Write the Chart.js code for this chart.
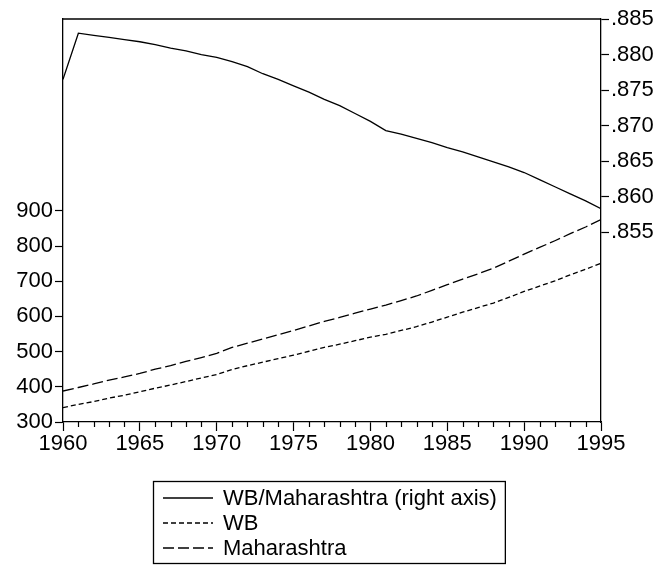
<!DOCTYPE html>
<html>
<head>
<meta charset="utf-8">
<script src="https://cdn.jsdelivr.net/npm/chart.js@4/dist/chart.umd.min.js"></script>
<style>
  html, body { margin: 0; padding: 0; background: #fff; }
</style>
</head>
<body>
<canvas id="grafico" width="663" height="572"></canvas>
<script>
// Séries anuais 1960-1995
const anos = [1960, 1961, 1962, 1963, 1964, 1965, 1966, 1967, 1968, 1969,
              1970, 1971, 1972, 1973, 1974, 1975, 1976, 1977, 1978, 1979,
              1980, 1981, 1982, 1983, 1984, 1985, 1986, 1987, 1988, 1989,
              1990, 1991, 1992, 1993, 1994, 1995];

const wb = [341, 350, 358, 368, 376, 386, 396, 405, 415, 425,
            435, 449, 460, 470, 480, 490, 501, 512, 521, 531,
            541, 549, 560, 571, 584, 598, 612, 625, 638, 654,
            671, 686, 701, 718, 734, 751];

const maharashtra = [388, 398, 408, 419, 428, 438, 450, 460, 472, 483,
                     495, 512, 524, 536, 548, 560, 573, 586, 597, 609,
                     621, 632, 645, 658, 674, 690, 706, 721, 737, 757,
                     777, 796, 815, 835, 854, 875];

const razao = [0.8765, 0.8830, 0.8827, 0.8824, 0.8821, 0.8818, 0.8814, 0.8809, 0.8805, 0.8800,
               0.8796, 0.8790, 0.8783, 0.8773, 0.8765, 0.8756, 0.8747, 0.8737, 0.8728, 0.8717,
               0.8706, 0.8693, 0.8688, 0.8682, 0.8676, 0.8669, 0.8663, 0.8656, 0.8649, 0.8642,
               0.8634, 0.8624, 0.8614, 0.8604, 0.8594, 0.8583];

const ticksEsquerda = [300, 400, 500, 600, 700, 800, 900];
const ticksDireita = [0.855, 0.860, 0.865, 0.870, 0.875, 0.880, 0.885];

const fonte = { family: "'Liberation Sans', Arial, sans-serif", size: 22 };
const preto = '#000';

function pontos(valores) {
    return anos.map((ano, i) => ({ x: ano, y: valores[i] }));
}

// Moldura de cima, marcas menores do eixo x e legenda com borda
const extras = {
    id: 'extras',
    afterDraw(chart) {
        const c = chart.ctx;
        const area = chart.chartArea;
        const x = chart.scales.x;

        c.save();
        c.strokeStyle = preto;
        c.lineWidth = 1.3;
        c.beginPath();
        c.moveTo(area.left, area.top);
        c.lineTo(area.right, area.top);
        c.stroke();

        c.lineWidth = 1.2;
        anos.forEach(ano => {
            if (ano % 5 === 0) return;
            const px = Math.round(x.getPixelForValue(ano)) + 0.5;
            c.beginPath();
            c.moveTo(px, area.bottom);
            c.lineTo(px, area.bottom + 5);
            c.stroke();
        });

        // legenda
        c.font = fonte.size + "px " + fonte.family;
        c.textBaseline = 'middle';
        const itens = chart.data.datasets;
        let largura = 0;
        itens.forEach(d => { largura = Math.max(largura, c.measureText(d.label).width); });
        const esq = 153, topo = 481, linha = 25;
        const larguraCaixa = 70 + largura + 8;
        const alturaCaixa = itens.length * linha + 7;

        c.lineWidth = 1.3;
        c.setLineDash([]);
        c.strokeRect(esq + 0.5, topo + 0.5, larguraCaixa, alturaCaixa);

        itens.forEach((d, i) => {
            const y = topo + 17 + i * linha;
            c.setLineDash(d.borderDash || []);
            c.lineWidth = d.borderWidth;
            c.beginPath();
            c.moveTo(esq + 10, y);
            c.lineTo(esq + 60, y);
            c.stroke();
            c.setLineDash([]);
            c.fillStyle = preto;
            c.fillText(d.label, esq + 70, y + 1);
        });
        c.restore();
    }
};

const ctx = document.getElementById("grafico").getContext("2d");

new Chart(ctx, {
    type: 'line',
    data: {
        datasets: [
            {
                label: 'WB/Maharashtra (right axis)',
                data: pontos(razao),
                yAxisID: 'y2',
                borderColor: preto,
                borderWidth: 1.3,
                pointRadius: 0,
                tension: 0
            },
            {
                label: 'WB',
                data: pontos(wb),
                yAxisID: 'y',
                borderColor: preto,
                borderWidth: 1.3,
                borderDash: [5, 3],
                pointRadius: 0,
                tension: 0
            },
            {
                label: 'Maharashtra',
                data: pontos(maharashtra),
                yAxisID: 'y',
                borderColor: preto,
                borderWidth: 1.3,
                borderDash: [11, 4],
                pointRadius: 0,
                tension: 0
            }
        ]
    },
    options: {
        responsive: false,
        animation: false,
        layout: { padding: { top: 19, left: 0, right: 0, bottom: 0 } },
        plugins: {
            legend: { display: false },
            tooltip: { enabled: false }
        },
        scales: {
            x: {
                type: 'linear',
                position: 'bottom',
                min: 1960,
                max: 1995,
                afterBuildTicks: scale => { scale.ticks = anos.filter(a => a % 5 === 0).map(v => ({ value: v })); },
                afterFit: scale => { scale.height = 150; },
                ticks: {
                    autoSkip: false,
                    maxRotation: 0,
                    color: preto,
                    font: fonte,
                    padding: 0,
                    callback: v => String(v)
                },
                grid: { drawOnChartArea: false, tickLength: 9, tickColor: preto, tickWidth: 1.2 },
                border: { color: preto, width: 1.3 }
            },
            y: {
                position: 'left',
                min: 300,
                max: 1445,
                afterBuildTicks: scale => { scale.ticks = ticksEsquerda.map(v => ({ value: v })); },
                afterFit: scale => { scale.width = 63; },
                ticks: { color: preto, font: fonte, padding: 2 },
                grid: { drawOnChartArea: false, tickLength: 8, tickColor: preto, tickWidth: 1.2 },
                border: { color: preto, width: 1.3 }
            },
            y2: {
                position: 'right',
                min: 0.8283,
                max: 0.885,
                afterBuildTicks: scale => { scale.ticks = ticksDireita.map(v => ({ value: v })); },
                afterFit: scale => { scale.width = 62; },
                ticks: {
                    color: preto,
                    font: fonte,
                    padding: 2,
                    callback: v => v.toFixed(3).replace(/^0/, '')
                },
                grid: { drawOnChartArea: false, tickLength: 8, tickColor: preto, tickWidth: 1.2 },
                border: { color: preto, width: 1.3 }
            }
        }
    },
    plugins: [extras]
});
</script>
</body>
</html>
